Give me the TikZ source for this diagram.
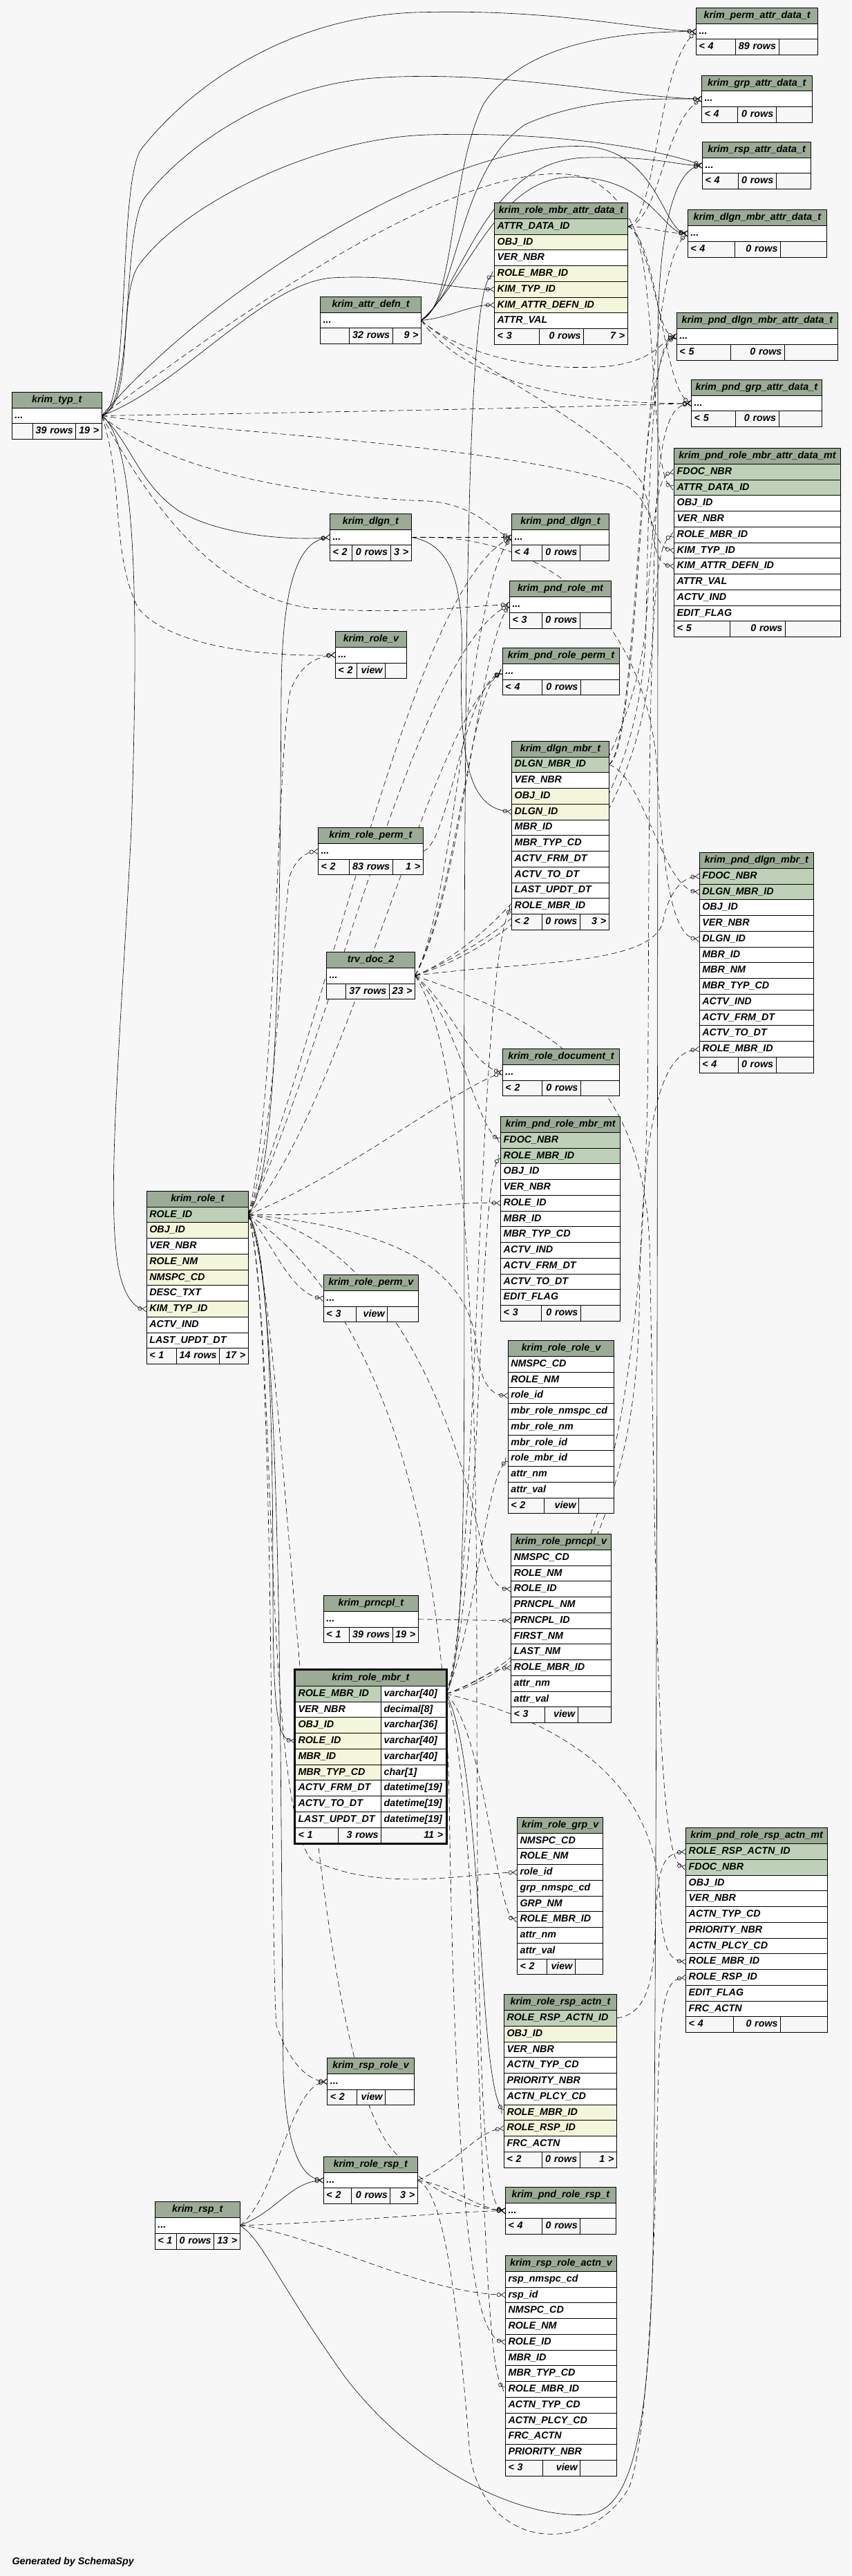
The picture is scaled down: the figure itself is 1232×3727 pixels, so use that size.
\documentclass[tikz,border=0pt]{standalone}
\usepackage{fontspec}
\setmainfont{Liberation Sans}
\usetikzlibrary{arrows.meta}
\definecolor{bgc}{HTML}{F7F7F7}
\definecolor{hdc}{HTML}{9BAB96}
\definecolor{pkc}{HTML}{BED1B8}
\definecolor{ixc}{HTML}{F4F6DC}
\definecolor{ftc}{HTML}{F7F7F7}
\pgfdeclarelayer{back}
\pgfdeclarelayer{edges}
\pgfsetlayers{back,edges,main}
\newcommand\cf{\fontsize{14.3}{16}\selectfont\bfseries\itshape}
\tikzset{
 cell/.style={draw=black, line width=0.9pt, outer sep=0pt, inner xsep=4pt, inner ysep=0pt, minimum height=22.75pt, anchor=north west, text height=10.3pt, text depth=3pt, font=\cf},
 hdr/.style={cell, fill=hdc},
 crow/.style={-{Circle[open,length=6pt,width=6pt] Straight Barb[reversed,length=6pt,width=8pt]}},
 fk/.style={draw=black, line width=0.6pt, crow},
 imp/.style={fk, dash pattern=on 8pt off 5pt},
}
\newcommand\THead[5]{\pgfmathsetmacro\tabw{#4}\pgfmathsetmacro\tw{#4-8}%
 \node[hdr, minimum width=\tabw pt] (#1) at (#2,#3) {#5};}
\newcommand\TRow[4]{\node[cell, fill=#3, text width=\tw pt, align=left] (#1) at (#2.south west) {\mbox{#4}};}
\newcommand\TFoot[7]{\pgfmathsetmacro\wa{#3-8}\pgfmathsetmacro\wb{#4-8}\pgfmathsetmacro\wc{\tabw-#3-#4-8}%
 \node[cell, fill=ftc, text width=\wa pt, align=left] (#1a) at (#2.south west) {\mbox{#5}};
 \node[cell, fill=ftc, text width=\wb pt, align=right] (#1b) at (#1a.north east) {\mbox{#6}};
 \node[cell, fill=ftc, text width=\wc pt, align=right] (#1c) at (#1b.north east) {\mbox{#7}};}
\newcommand\TPair[5]{\node[cell, fill=#3, text width=116.2pt, align=left] (#1) at (#2.south west) {\mbox{#4}};
 \node[cell, fill=white, text width=85.6pt, align=left] (#1t) at (#1.north east) {\mbox{#5}};}
\begin{document}
\begin{tikzpicture}[x=1pt,y=-1pt]
\useasboundingbox (0,0) rectangle (1232,3727);
\begin{pgfonlayer}{back}
\fill[bgc] (0,0) rectangle (1232,3727);
\end{pgfonlayer}

% ---------- tables ----------
\THead{perm}{1007.6}{11.4}{176.1}{krim\_perm\_attr\_data\_t}
\TRow{perm-d}{perm}{white}{...}
\TFoot{perm-f}{perm-d}{56.7}{62.7}{< 4}{89 rows}{}

\THead{grp}{1015.5}{109}{159.7}{krim\_grp\_attr\_data\_t}
\TRow{grp-d}{grp}{white}{...}
\TFoot{grp-f}{grp-d}{52}{55.7}{< 4}{0 rows}{}

\THead{rsa}{1016.6}{205.3}{157}{krim\_rsp\_attr\_data\_t}
\TRow{rsa-d}{rsa}{white}{...}
\TFoot{rsa-f}{rsa-d}{52}{54.6}{< 4}{0 rows}{}

\THead{rmad}{715.7}{293.5}{192.6}{krim\_role\_mbr\_attr\_data\_t}
\TRow{rmad-1}{rmad}{pkc}{ATTR\_DATA\_ID}
\TRow{rmad-2}{rmad-1}{ixc}{OBJ\_ID}
\TRow{rmad-3}{rmad-2}{white}{VER\_NBR}
\TRow{rmad-4}{rmad-3}{ixc}{ROLE\_MBR\_ID}
\TRow{rmad-5}{rmad-4}{ixc}{KIM\_TYP\_ID}
\TRow{rmad-6}{rmad-5}{ixc}{KIM\_ATTR\_DEFN\_ID}
\TRow{rmad-7}{rmad-6}{white}{ATTR\_VAL}
\TFoot{rmad-f}{rmad-7}{64.7}{64.2}{< 3}{0 rows}{7 >}

\THead{dma}{995.3}{303.7}{201.2}{krim\_dlgn\_mbr\_attr\_data\_t}
\TRow{dma-d}{dma}{white}{...}
\TFoot{dma-f}{dma-d}{67.9}{66.3}{< 4}{0 rows}{}

\THead{ad}{463.7}{429.4}{145.9}{krim\_attr\_defn\_t}
\TRow{ad-d}{ad}{white}{...}
\TFoot{ad-f}{ad-d}{41.9}{62.6}{}{32 rows}{9 >}

\THead{pdma}{979.4}{452.7}{233}{krim\_pnd\_dlgn\_mbr\_attr\_data\_t}
\TRow{pdma-d}{pdma}{white}{...}
\TFoot{pdma-f}{pdma-d}{78}{78}{< 5}{0 rows}{}

\THead{pga}{1000.7}{549.4}{188.3}{krim\_pnd\_grp\_attr\_data\_t}
\TRow{pga-d}{pga}{white}{...}
\TFoot{pga-f}{pga-d}{63.7}{62.6}{< 5}{0 rows}{}

\THead{typ}{17.3}{567.3}{130}{krim\_typ\_t}
\TRow{typ-d}{typ}{white}{...}
\TFoot{typ-f}{typ-d}{30.4}{62}{}{39 rows}{19 >}

\THead{prma}{975.7}{648.6}{240.4}{krim\_pnd\_role\_mbr\_attr\_data\_mt}
\TRow{prma-1}{prma}{pkc}{FDOC\_NBR}
\TRow{prma-2}{prma-1}{pkc}{ATTR\_DATA\_ID}
\TRow{prma-3}{prma-2}{white}{OBJ\_ID}
\TRow{prma-4}{prma-3}{white}{VER\_NBR}
\TRow{prma-5}{prma-4}{white}{ROLE\_MBR\_ID}
\TRow{prma-6}{prma-5}{white}{KIM\_TYP\_ID}
\TRow{prma-7}{prma-6}{white}{KIM\_ATTR\_DEFN\_ID}
\TRow{prma-8}{prma-7}{white}{ATTR\_VAL}
\TRow{prma-9}{prma-8}{white}{ACTV\_IND}
\TRow{prma-10}{prma-9}{white}{EDIT\_FLAG}
\TFoot{prma-f}{prma-10}{80.6}{80.1}{< 5}{0 rows}{}

\THead{dlgn}{477.5}{743.3}{117.8}{krim\_dlgn\_t}
\TRow{dlgn-d}{dlgn}{white}{...}
\TFoot{dlgn-f}{dlgn-d}{31.8}{55.7}{< 2}{0 rows}{3 >}

\THead{pdlgn}{740.7}{743.3}{140.6}{krim\_pnd\_dlgn\_t}
\TRow{pdlgn-d}{pdlgn}{white}{...}
\TFoot{pdlgn-f}{pdlgn-d}{43.5}{55.2}{< 4}{0 rows}{}

\THead{prmt}{737.5}{840.8}{147}{krim\_pnd\_role\_mt}
\TRow{prmt-d}{prmt}{white}{...}
\TFoot{prmt-f}{prmt-d}{46.7}{55.2}{< 3}{0 rows}{}

\THead{rolev}{485.4}{913.5}{103}{krim\_role\_v}
\TRow{rolev-d}{rolev}{white}{...}
\TFoot{rolev-f}{rolev-d}{31.3}{40.9}{< 2}{view}{}

\THead{prp}{727.4}{937.6}{169.3}{krim\_pnd\_role\_perm\_t}
\TRow{prp-d}{prp}{white}{...}
\TFoot{prp-f}{prp-d}{57.3}{55.7}{< 4}{0 rows}{}

\THead{dm}{740.7}{1072.2}{140.6}{krim\_dlgn\_mbr\_t}
\TRow{dm-1}{dm}{pkc}{DLGN\_MBR\_ID}
\TRow{dm-2}{dm-1}{white}{VER\_NBR}
\TRow{dm-3}{dm-2}{ixc}{OBJ\_ID}
\TRow{dm-4}{dm-3}{ixc}{DLGN\_ID}
\TRow{dm-5}{dm-4}{white}{MBR\_ID}
\TRow{dm-6}{dm-5}{white}{MBR\_TYP\_CD}
\TRow{dm-7}{dm-6}{white}{ACTV\_FRM\_DT}
\TRow{dm-8}{dm-7}{white}{ACTV\_TO\_DT}
\TRow{dm-9}{dm-8}{white}{LAST\_UPDT\_DT}
\TRow{dm-10}{dm-9}{white}{ROLE\_MBR\_ID}
\TFoot{dm-f}{dm-10}{43.5}{55.2}{< 2}{0 rows}{3 >}

\THead{rpt}{460.5}{1197.6}{151.7}{krim\_role\_perm\_t}
\TRow{rpt-d}{rpt}{white}{...}
\TFoot{rpt-f}{rpt-d}{45.1}{62.6}{< 2}{83 rows}{1 >}

\THead{pdm}{1012.3}{1233.6}{165}{krim\_pnd\_dlgn\_mbr\_t}
\TRow{pdm-1}{pdm}{pkc}{FDOC\_NBR}
\TRow{pdm-2}{pdm-1}{pkc}{DLGN\_MBR\_ID}
\TRow{pdm-3}{pdm-2}{white}{OBJ\_ID}
\TRow{pdm-4}{pdm-3}{white}{VER\_NBR}
\TRow{pdm-5}{pdm-4}{white}{DLGN\_ID}
\TRow{pdm-6}{pdm-5}{white}{MBR\_ID}
\TRow{pdm-7}{pdm-6}{white}{MBR\_NM}
\TRow{pdm-8}{pdm-7}{white}{MBR\_TYP\_CD}
\TRow{pdm-9}{pdm-8}{white}{ACTV\_IND}
\TRow{pdm-10}{pdm-9}{white}{ACTV\_FRM\_DT}
\TRow{pdm-11}{pdm-10}{white}{ACTV\_TO\_DT}
\TRow{pdm-12}{pdm-11}{white}{ROLE\_MBR\_ID}
\TFoot{pdm-f}{pdm-12}{56.2}{54.6}{< 4}{0 rows}{}

\THead{doc}{472.7}{1377.6}{127.9}{trv\_doc\_2}
\TRow{doc-d}{doc}{white}{...}
\TFoot{doc-f}{doc-d}{27.6}{63.1}{}{37 rows}{23 >}

\THead{rdoc}{727.4}{1517.6}{169.3}{krim\_role\_document\_t}
\TRow{rdoc-d}{rdoc}{white}{...}
\TFoot{rdoc-f}{rdoc-d}{57.3}{55.7}{< 2}{0 rows}{}

\THead{prm}{724.7}{1615.5}{173}{krim\_pnd\_role\_mbr\_mt}
\TRow{prm-1}{prm}{pkc}{FDOC\_NBR}
\TRow{prm-2}{prm-1}{pkc}{ROLE\_MBR\_ID}
\TRow{prm-3}{prm-2}{white}{OBJ\_ID}
\TRow{prm-4}{prm-3}{white}{VER\_NBR}
\TRow{prm-5}{prm-4}{white}{ROLE\_ID}
\TRow{prm-6}{prm-5}{white}{MBR\_ID}
\TRow{prm-7}{prm-6}{white}{MBR\_TYP\_CD}
\TRow{prm-8}{prm-7}{white}{ACTV\_IND}
\TRow{prm-9}{prm-8}{white}{ACTV\_FRM\_DT}
\TRow{prm-10}{prm-9}{white}{ACTV\_TO\_DT}
\TRow{prm-11}{prm-10}{white}{EDIT\_FLAG}
\TFoot{prm-f}{prm-11}{58.9}{56.8}{< 3}{0 rows}{}

\THead{role}{212.3}{1723.3}{147}{krim\_role\_t}
\TRow{role-1}{role}{pkc}{ROLE\_ID}
\TRow{role-2}{role-1}{ixc}{OBJ\_ID}
\TRow{role-3}{role-2}{white}{VER\_NBR}
\TRow{role-4}{role-3}{ixc}{ROLE\_NM}
\TRow{role-5}{role-4}{ixc}{NMSPC\_CD}
\TRow{role-6}{role-5}{white}{DESC\_TXT}
\TRow{role-7}{role-6}{ixc}{KIM\_TYP\_ID}
\TRow{role-8}{role-7}{white}{ACTV\_IND}
\TRow{role-9}{role-8}{white}{LAST\_UPDT\_DT}
\TFoot{role-f}{role-9}{42.7}{62.7}{< 1}{14 rows}{17 >}

\THead{rpv}{468.4}{1844.5}{136.9}{krim\_role\_perm\_v}
\TRow{rpv-d}{rpv}{white}{...}
\TFoot{rpv-f}{rpv-d}{47.2}{45.1}{< 3}{view}{}

\THead{rrv}{735.3}{1939.6}{153.4}{krim\_role\_role\_v}
\TRow{rrv-1}{rrv}{white}{NMSPC\_CD}
\TRow{rrv-2}{rrv-1}{white}{ROLE\_NM}
\TRow{rrv-3}{rrv-2}{white}{role\_id}
\TRow{rrv-4}{rrv-3}{white}{mbr\_role\_nmspc\_cd}
\TRow{rrv-5}{rrv-4}{white}{mbr\_role\_nm}
\TRow{rrv-6}{rrv-5}{white}{mbr\_role\_id}
\TRow{rrv-7}{rrv-6}{white}{role\_mbr\_id}
\TRow{rrv-8}{rrv-7}{white}{attr\_nm}
\TRow{rrv-9}{rrv-8}{white}{attr\_val}
\TFoot{rrv-f}{rrv-9}{52}{50.4}{< 2}{view}{}

\THead{rpr}{739.6}{2219.6}{144.9}{krim\_role\_prncpl\_v}
\TRow{rpr-1}{rpr}{white}{NMSPC\_CD}
\TRow{rpr-2}{rpr-1}{white}{ROLE\_NM}
\TRow{rpr-3}{rpr-2}{white}{ROLE\_ID}
\TRow{rpr-4}{rpr-3}{white}{PRNCPL\_NM}
\TRow{rpr-5}{rpr-4}{white}{PRNCPL\_ID}
\TRow{rpr-6}{rpr-5}{white}{FIRST\_NM}
\TRow{rpr-7}{rpr-6}{white}{LAST\_NM}
\TRow{rpr-8}{rpr-7}{white}{ROLE\_MBR\_ID}
\TRow{rpr-9}{rpr-8}{white}{attr\_nm}
\TRow{rpr-10}{rpr-9}{white}{attr\_val}
\TFoot{rpr-f}{rpr-10}{48.8}{47.8}{< 3}{view}{}

\THead{prn}{468.4}{2308.6}{136.9}{krim\_prncpl\_t}
\TRow{prn-d}{prn}{white}{...}
\TFoot{prn-f}{prn-d}{37.1}{62.6}{< 1}{39 rows}{19 >}

\THead{rm}{427.5}{2416.5}{217.8}{krim\_role\_mbr\_t}
\TPair{rm-1}{rm}{pkc}{ROLE\_MBR\_ID}{varchar[40]}
\TPair{rm-2}{rm-1}{white}{VER\_NBR}{decimal[8]}
\TPair{rm-3}{rm-2}{ixc}{OBJ\_ID}{varchar[36]}
\TPair{rm-4}{rm-3}{ixc}{ROLE\_ID}{varchar[40]}
\TPair{rm-5}{rm-4}{ixc}{MBR\_ID}{varchar[40]}
\TPair{rm-6}{rm-5}{ixc}{MBR\_TYP\_CD}{char[1]}
\TPair{rm-7}{rm-6}{white}{ACTV\_FRM\_DT}{datetime[19]}
\TPair{rm-8}{rm-7}{white}{ACTV\_TO\_DT}{datetime[19]}
\TPair{rm-9}{rm-8}{white}{LAST\_UPDT\_DT}{datetime[19]}
\TFoot{rm-f}{rm-9}{62.2}{62}{< 1}{3 rows}{11 >}
\draw[line width=2.7pt] ([shift={(-1.35pt,1.35pt)}]rm.north west) rectangle ([shift={(1.35pt,-1.35pt)}]rm-fc.south east);

\THead{rgv}{748.6}{2629.4}{124.2}{krim\_role\_grp\_v}
\TRow{rgv-1}{rgv}{white}{NMSPC\_CD}
\TRow{rgv-2}{rgv-1}{white}{ROLE\_NM}
\TRow{rgv-3}{rgv-2}{white}{role\_id}
\TRow{rgv-4}{rgv-3}{white}{grp\_nmspc\_cd}
\TRow{rgv-5}{rgv-4}{white}{GRP\_NM}
\TRow{rgv-6}{rgv-5}{white}{ROLE\_MBR\_ID}
\TRow{rgv-7}{rgv-6}{white}{attr\_nm}
\TRow{rgv-8}{rgv-7}{white}{attr\_val}
\TFoot{rgv-f}{rgv-8}{43}{40.9}{< 2}{view}{}

\THead{prra}{992.7}{2644.9}{204.8}{krim\_pnd\_role\_rsp\_actn\_mt}
\TRow{prra-1}{prra}{pkc}{ROLE\_RSP\_ACTN\_ID}
\TRow{prra-2}{prra-1}{pkc}{FDOC\_NBR}
\TRow{prra-3}{prra-2}{white}{OBJ\_ID}
\TRow{prra-4}{prra-3}{white}{VER\_NBR}
\TRow{prra-5}{prra-4}{white}{ACTN\_TYP\_CD}
\TRow{prra-6}{prra-5}{white}{PRIORITY\_NBR}
\TRow{prra-7}{prra-6}{white}{ACTN\_PLCY\_CD}
\TRow{prra-8}{prra-7}{white}{ROLE\_MBR\_ID}
\TRow{prra-9}{prra-8}{white}{ROLE\_RSP\_ID}
\TRow{prra-10}{prra-9}{white}{EDIT\_FLAG}
\TRow{prra-11}{prra-10}{white}{FRC\_ACTN}
\TFoot{prra-f}{prra-11}{69}{67.9}{< 4}{0 rows}{}

\THead{rra}{729.5}{2885.7}{162.9}{krim\_role\_rsp\_actn\_t}
\TRow{rra-1}{rra}{pkc}{ROLE\_RSP\_ACTN\_ID}
\TRow{rra-2}{rra-1}{ixc}{OBJ\_ID}
\TRow{rra-3}{rra-2}{white}{VER\_NBR}
\TRow{rra-4}{rra-3}{white}{ACTN\_TYP\_CD}
\TRow{rra-5}{rra-4}{white}{PRIORITY\_NBR}
\TRow{rra-6}{rra-5}{white}{ACTN\_PLCY\_CD}
\TRow{rra-7}{rra-6}{ixc}{ROLE\_MBR\_ID}
\TRow{rra-8}{rra-7}{ixc}{ROLE\_RSP\_ID}
\TRow{rra-9}{rra-8}{white}{FRC\_ACTN}
\TFoot{rra-f}{rra-9}{55.2}{54.6}{< 2}{0 rows}{1 >}

\THead{rsv}{473.8}{2977.6}{125.7}{krim\_rsp\_role\_v}
\TRow{rsv-d}{rsv}{white}{...}
\TFoot{rsv-f}{rsv-d}{42.4}{41.4}{< 2}{view}{}

\THead{rrt}{468.4}{3120.4}{135.9}{krim\_role\_rsp\_t}
\TRow{rrt-d}{rrt}{white}{...}
\TFoot{rrt-f}{rrt-d}{40.3}{56.2}{< 2}{0 rows}{3 >}

\THead{prr}{731.6}{3164.4}{159.7}{krim\_pnd\_role\_rsp\_t}
\TRow{prr-d}{prr}{white}{...}
\TFoot{prr-f}{prr-d}{53}{55.2}{< 4}{0 rows}{}

\THead{rrav}{731.6}{3263.5}{160.8}{krim\_rsp\_role\_actn\_v}
\TRow{rrav-1}{rrav}{white}{rsp\_nmspc\_cd}
\TRow{rrav-2}{rrav-1}{white}{rsp\_id}
\TRow{rrav-3}{rrav-2}{white}{NMSPC\_CD}
\TRow{rrav-4}{rrav-3}{white}{ROLE\_NM}
\TRow{rrav-5}{rrav-4}{white}{ROLE\_ID}
\TRow{rrav-6}{rrav-5}{white}{MBR\_ID}
\TRow{rrav-7}{rrav-6}{white}{MBR\_TYP\_CD}
\TRow{rrav-8}{rrav-7}{white}{ROLE\_MBR\_ID}
\TRow{rrav-9}{rrav-8}{white}{ACTN\_TYP\_CD}
\TRow{rrav-10}{rrav-9}{white}{ACTN\_PLCY\_CD}
\TRow{rrav-11}{rrav-10}{white}{FRC\_ACTN}
\TRow{rrav-12}{rrav-11}{white}{PRIORITY\_NBR}
\TFoot{rrav-f}{rrav-12}{54.1}{54.1}{< 3}{view}{}

\THead{rspt}{224.3}{3185.7}{123}{krim\_rsp\_t}
\TRow{rspt-d}{rspt}{white}{...}
\TFoot{rspt-f}{rspt-d}{31}{54.4}{< 1}{0 rows}{13 >}

\node[font=\cf, anchor=base west, inner sep=0pt] (gen) at (17.3,3710) {Generated by SchemaSpy};

% ---------- connectors ----------
\begin{pgfonlayer}{edges}
% real foreign keys
\draw[fk] (typ-d.east) .. controls (190,590) and (170,260) .. (205,215) .. controls (280,120) and (420,25) .. (600,18) .. controls (800,12) and (920,42) .. (perm-d.west);
\draw[fk] (typ-d.east) .. controls (195,590) and (175,330) .. (210,285) .. controls (270,210) and (390,125) .. (540,113) .. controls (720,100) and (900,140) .. (grp-d.west);
\draw[fk] (typ-d.east) .. controls (195,585) and (170,430) .. (200,385) .. controls (260,300) and (450,200) .. (620,195) .. controls (800,190) and (950,215) .. (rsa-d.west);
\draw[fk] (typ-d.east) .. controls (260,560) and (380,410) .. (480,402) .. controls (580,396) and (650,418) .. (rmad-5.west);
\draw[fk] (typ-d.east) .. controls (300,420) and (650,200) .. (850,212) .. controls (950,220) and (960,330) .. (dma-d.west);
\draw[fk] (typ-d.east) .. controls (200,640) and (200,900) .. (190,1200) .. controls (175,1500) and (150,1760) .. (175,1850) .. controls (185,1885) and (200,1893) .. (role-7.west);
\draw[fk] (typ-d.east) .. controls (190,640) and (200,700) .. (260,740) .. controls (320,775) and (420,782) .. (dlgn-d.west);
\draw[fk] (ad-d.east) .. controls (660,440) and (650,250) .. (700,150) .. controls (760,60) and (900,46) .. (perm-d.west);
\draw[fk] (ad-d.east) .. controls (665,430) and (660,250) .. (760,180) .. controls (850,140) and (950,143) .. (grp-d.west);
\draw[fk] (ad-d.east) .. controls (670,420) and (700,230) .. (850,228) .. controls (950,226) and (980,239) .. (rsa-d.west);
\draw[fk] (ad-d.east) .. controls (680,400) and (720,255) .. (830,256) .. controls (940,258) and (960,336) .. (dma-d.west);
\draw[fk] (ad-d.east) .. controls (650,460) and (680,441) .. (rmad-6.west);
\draw[fk] (rspt-d.east) .. controls (380,3240) and (400,3300) .. (500,3440) .. controls (600,3570) and (750,3645) .. (850,3638) .. controls (920,3632) and (942,3500) .. (946,3200) .. controls (952,2500) and (952,1000) .. (952,500) .. controls (952,300) and (985,245) .. (rsa-d.west);
\draw[fk] (rspt-d.east) .. controls (400,3200) and (420,3158) .. (rrt-d.west);
\draw[fk] (role-1.east) .. controls (385,1790) and (395,2000) .. (395,2300) .. controls (395,2480) and (402,2516) .. (rm-4.west);
\draw[fk] (role-1.east) .. controls (405,1700) and (405,1300) .. (407,1000) .. controls (408,850) and (430,785) .. (dlgn-d.west);
\draw[fk] (role-1.east) .. controls (410,1850) and (405,2600) .. (410,3000) .. controls (415,3120) and (440,3150) .. (rrt-d.west);
\draw[fk] (dlgn-d.east) .. controls (640,785) and (672,820) .. (668,950) .. controls (664,1100) and (680,1168) .. (dm-4.west);
\draw[fk] (rm-1t.east) .. controls (680,2400) and (670,2000) .. (672,1400) .. controls (674,800) and (680,420) .. (rmad-4.west);
\draw[fk] (rm-1t.east) .. controls (700,2550) and (690,3000) .. (rra-7.west);
% implied relationships
\draw[imp] (typ-d.east) .. controls (350,450) and (650,240) .. (820,252) .. controls (950,262) and (940,480) .. (pdma-d.west);
\draw[imp] (typ-d.east) .. controls (400,598) and (800,590) .. (pga-d.west);
\draw[imp] (typ-d.east) .. controls (300,625) and (700,640) .. (900,700) .. controls (950,720) and (940,790) .. (prma-6.west);
\draw[imp] (typ-d.east) .. controls (180,700) and (160,800) .. (200,880) .. controls (250,940) and (400,950) .. (rolev-d.west);
\draw[imp] (typ-d.east) .. controls (200,700) and (300,860) .. (450,880) .. controls (600,890) and (680,876) .. (prmt-d.west);
\draw[imp] (typ-d.east) .. controls (250,690) and (480,720) .. (620,725) .. controls (690,730) and (715,770) .. (pdlgn-d.west);
\draw[imp] (ad-d.east) .. controls (650,500) and (750,540) .. (880,530) .. controls (950,522) and (960,490) .. (pdma-d.west);
\draw[imp] (ad-d.east) .. controls (650,520) and (750,585) .. (pga-d.west);
\draw[imp] (ad-d.east) .. controls (700,540) and (880,620) .. (930,700) .. controls (950,760) and (940,815) .. (prma-7.west);
\draw[imp] (doc-d.east) .. controls (660,1300) and (680,850) .. (pdlgn-d.west);
\draw[imp] (doc-d.east) .. controls (665,1300) and (690,950) .. (prmt-d.west);
\draw[imp] (doc-d.east) .. controls (660,1300) and (680,1000) .. (prp-d.west);
\draw[imp] (doc-d.east) .. controls (750,1350) and (920,1100) .. (935,900) .. controls (945,750) and (950,690) .. (prma-1.west);
\draw[imp] (doc-d.east) .. controls (750,1390) and (950,1400) .. (960,1330) .. controls (970,1285) and (990,1270) .. (pdm-1.west);
\draw[imp] (doc-d.east) .. controls (650,1450) and (680,1540) .. (rdoc-d.west);
\draw[imp] (doc-d.east) .. controls (660,1470) and (690,1630) .. (prm-1.west);
\draw[imp] (doc-d.east) .. controls (800,1480) and (930,1560) .. (940,1800) .. controls (950,2300) and (950,2690) .. (prra-2.west);
\draw[imp] (doc-d.east) .. controls (660,1500) and (690,1800) .. (690,2400) .. controls (690,3000) and (700,3190) .. (prr-d.west);
\draw[imp] (doc-d.east) .. controls (750,1350) and (930,1200) .. (935,900) .. controls (940,600) and (950,495) .. (pdma-d.west);
\draw[imp] (doc-d.east) .. controls (760,1360) and (940,1200) .. (945,900) .. controls (948,650) and (960,590) .. (pga-d.west);
\draw[imp] (role-1.east) .. controls (400,1600) and (400,1100) .. (420,1000) .. controls (435,960) and (460,950) .. (rolev-d.west);
\draw[imp] (role-1.east) .. controls (400,1650) and (410,1300) .. (420,1265) .. controls (430,1240) and (445,1233) .. (rpt-d.west);
\draw[imp] (role-1.east) .. controls (390,1790) and (420,1872) .. (rpv-d.west);
\draw[imp] (role-1.east) .. controls (600,1780) and (680,1850) .. (690,1950) .. controls (695,2000) and (710,2018) .. (rrv-3.west);
\draw[imp] (role-1.east) .. controls (600,1800) and (680,2150) .. (700,2250) .. controls (710,2285) and (720,2298) .. (rpr-3.west);
\draw[imp] (role-1.east) .. controls (400,1900) and (380,2600) .. (450,2690) .. controls (550,2740) and (680,2710) .. (rgv-3.west);
\draw[imp] (role-1.east) .. controls (500,1760) and (650,1738) .. (prm-5.west);
\draw[imp] (role-1.east) .. controls (500,1700) and (650,1580) .. (rdoc-d.west);
\draw[imp] (role-1.east) .. controls (500,1600) and (620,1050) .. (prp-d.west);
\draw[imp] (role-1.east) .. controls (480,1500) and (600,950) .. (prmt-d.west);
\draw[imp] (role-1.east) .. controls (480,1450) and (600,850) .. (pdlgn-d.west);
\draw[imp] (role-1.east) .. controls (400,1900) and (390,2800) .. (400,2930) .. controls (420,2990) and (450,3010) .. (rsv-d.west);
\draw[imp] (role-1.east) .. controls (500,1850) and (640,2100) .. (650,2600) .. controls (660,3250) and (690,3380) .. (rrav-5.west);
\draw[imp] (role-1.east) .. controls (420,1900) and (430,2900) .. (560,3100) .. controls (620,3180) and (690,3195) .. (prr-d.west);
\draw[imp] (prn-d.east) -- (rpr-5.west);
\draw[imp] (rm-1t.east) .. controls (690,2350) and (690,1400) .. (dm-10.west);
\draw[imp] (rm-1t.east) .. controls (800,2400) and (920,2200) .. (925,1900) .. controls (928,1650) and (950,1525) .. (pdm-12.west);
\draw[imp] (rm-1t.east) .. controls (850,2400) and (935,2100) .. (938,1500) .. controls (940,1000) and (940,790) .. (prma-5.west);
\draw[imp] (rm-1t.east) .. controls (700,2300) and (690,1720) .. (prm-2.west);
\draw[imp] (rm-1t.east) .. controls (690,2350) and (700,2150) .. (rrv-7.west);
\draw[imp] (rm-1t.east) .. controls (680,2440) and (710,2415) .. (rpr-8.west);
\draw[imp] (rm-1t.east) .. controls (700,2500) and (720,2770) .. (rgv-6.west);
\draw[imp] (rm-1t.east) .. controls (850,2500) and (950,2600) .. (955,2750) .. controls (958,2820) and (970,2836) .. (prra-8.west);
\draw[imp] (rm-1t.east) .. controls (700,2600) and (690,3420) .. (rrav-8.west);
\draw[imp] (rspt-d.east) .. controls (400,3180) and (420,3020) .. (rsv-d.west);
\draw[imp] (rspt-d.east) .. controls (500,3215) and (650,3200) .. (prr-d.west);
\draw[imp] (rspt-d.east) .. controls (450,3230) and (600,3315) .. (rrav-2.west);
\draw[imp] (rrt-d.east) .. controls (650,3160) and (690,3195) .. (prr-d.west);
\draw[imp] (rrt-d.east) .. controls (660,3130) and (690,3085) .. (rra-8.west);
\draw[imp] (rrt-d.east) .. controls (640,3170) and (660,3300) .. (680,3550) .. controls (700,3690) and (850,3700) .. (910,3600) .. controls (950,3500) and (950,3000) .. (955,2950) .. controls (960,2880) and (970,2864) .. (prra-9.west);
\draw[imp] (rra-1.east) .. controls (930,2915) and (945,2880) .. (948,2800) .. controls (950,2700) and (960,2682) .. (prra-1.west);
\draw[imp] (dm-1.east) .. controls (930,1120) and (960,1285) .. (pdm-2.west);
\draw[imp] (dm-1.east) .. controls (930,1080) and (925,400) .. (dma-d.west);
\draw[imp] (dm-1.east) .. controls (925,1070) and (920,520) .. (pdma-d.west);
\draw[imp] (dlgn-d.east) -- (pdlgn-d.west);
\draw[imp] (dlgn-d.east) .. controls (800,770) and (930,900) .. (950,1100) .. controls (960,1300) and (980,1355) .. (pdm-5.west);
\draw[imp] (rpt-d.east) .. controls (650,1220) and (670,1000) .. (prp-d.west);
\draw[imp] (rmad-1.east) .. controls (950,330) and (940,690) .. (prma-2.west);
\draw[imp] (rmad-1.east) .. controls (940,328) and (960,337) .. (dma-d.west);
\draw[imp] (rmad-1.east) .. controls (950,320) and (950,100) .. (perm-d.west);
\draw[imp] (rmad-1.east) .. controls (955,320) and (960,180) .. (grp-d.west);
\draw[imp] (rmad-1.east) .. controls (950,340) and (960,560) .. (pga-d.west);
\end{pgfonlayer}
\end{tikzpicture}
\end{document}
